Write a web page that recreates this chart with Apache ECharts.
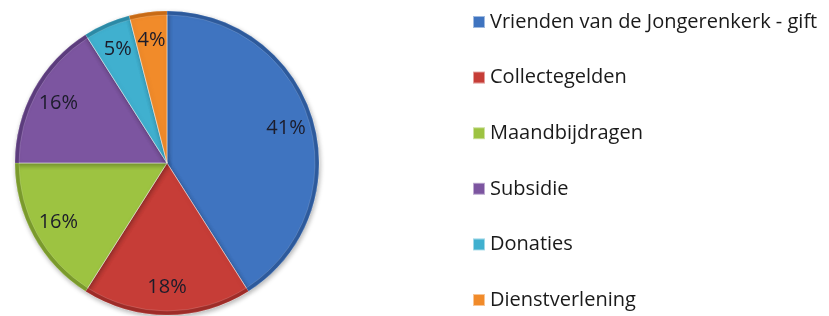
<!DOCTYPE html>
<html>
<head>
<meta charset="utf-8">
<script src="https://cdn.jsdelivr.net/npm/echarts@6/dist/echarts.min.js"></script>
<style>
	html, body { margin: 0; padding: 0; background: #fff; }
	#container { width: 829px; height: 316px; }
</style>
</head>
<body>
<div id="container"></div>
<script>
var categorieen = ['Vrienden van de Jongerenkerk - gift', 'Collectegelden', 'Maandbijdragen', 'Subsidie', 'Donaties', 'Dienstverlening'];
var percentages = [41, 18, 16, 16, 5, 4];

var kleuren = ['#3f74c0', '#c63d37', '#9dc341', '#7c55a0', '#40b0cf', '#f18b2a'];
var randKleuren = ['#2d5a9c', '#9e2c28', '#7a9a2c', '#5c3c7d', '#2b8aa6', '#c86a14'];

var dom = document.getElementById('container');
var myChart = echarts.init(dom);

var pieData = [];
var randData = [];
var labelData = [];
categorieen.forEach(function (naam, i) {
	pieData.push({ name: naam, value: percentages[i], itemStyle: { color: kleuren[i] } });
	randData.push({ name: naam, value: percentages[i], itemStyle: { color: randKleuren[i] } });
	labelData.push({ name: naam, value: percentages[i] });
});

var option = {
	animation: false,
	legend: {
		orient: 'vertical',
		left: 467,
		top: 6,
		itemWidth: 12,
		itemHeight: 12,
		itemGap: 33.6,
		icon: 'rect',
		textStyle: {
			fontFamily: 'Open Sans',
			fontSize: 20,
			lineHeight: 22,
			color: '#1a1a1a'
		},
		data: categorieen
	},
	series: [
		{
			name: 'taart',
			type: 'pie',
			center: [167, 163],
			radius: [0, 152],
			startAngle: 90,
			clockwise: true,
			label: { show: false },
			labelLine: { show: false },
			itemStyle: {
				borderColor: 'rgba(255,255,255,0.5)',
				borderWidth: 1,
				shadowBlur: 5,
				shadowColor: 'rgba(0,0,0,0.3)',
				shadowOffsetX: 1,
				shadowOffsetY: 2
			},
			emphasis: { disabled: true },
			data: pieData
		},
		{
			name: 'rand',
			type: 'pie',
			center: [167, 163],
			radius: [148, 152],
			startAngle: 90,
			clockwise: true,
			silent: true,
			legendHoverLink: false,
			label: { show: false },
			labelLine: { show: false },
			itemStyle: { borderColor: 'rgba(255,255,255,0.3)', borderWidth: 0.5 },
			emphasis: { disabled: true },
			data: randData
		},
		{
			name: 'labels',
			type: 'pie',
			center: [167, 163],
			radius: [90, 152],
			startAngle: 90,
			clockwise: true,
			silent: true,
			legendHoverLink: false,
			itemStyle: { color: 'rgba(0,0,0,0)' },
			label: {
				show: true,
				position: 'inside',
				formatter: '{c}%',
				fontFamily: 'Open Sans',
				fontSize: 20,
				color: '#1c1c2a'
			},
			labelLine: { show: false },
			emphasis: { disabled: true },
			data: labelData
		}
	]
};

myChart.setOption(option, true);
</script>
</body>
</html>
